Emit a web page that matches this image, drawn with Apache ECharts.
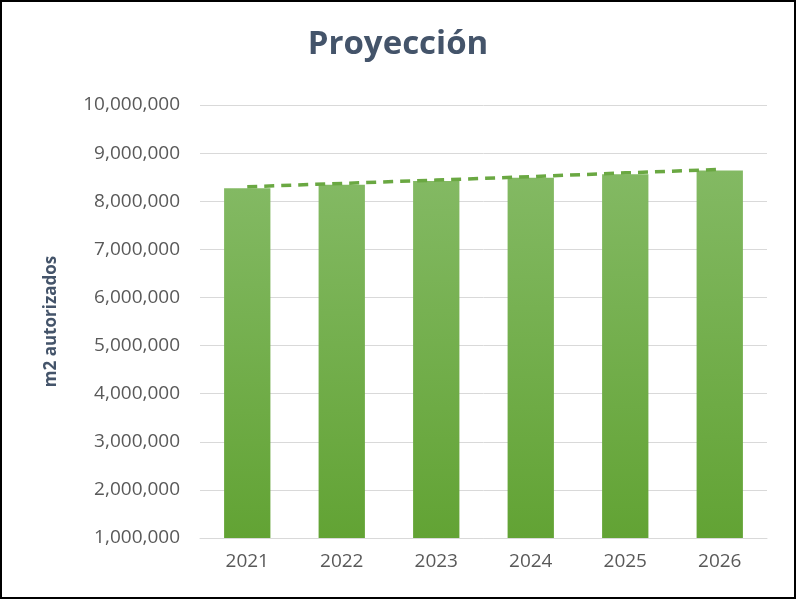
<!DOCTYPE html><html><head><meta charset="utf-8">
<script src="https://cdn.jsdelivr.net/npm/echarts@6/dist/echarts.min.js"></script>
<style>html,body{margin:0;padding:0;background:#fff}#c{width:792px;height:595px;border:2px solid #000}</style></head><body>
<div id="c"></div>
<script>
const years=['2021','2022','2023','2024','2025','2026'];
const values=[8270000,8340000,8420000,8490000,8560000,8640000];
const trend=[8300000,8370000,8440000,8510000,8590000,8660000];
const chart=echarts.init(document.getElementById('c'));
chart.setOption({
 title:{text:'Proyección',left:'center',top:21,textStyle:{fontFamily:'Open Sans',fontSize:33,fontWeight:'bold',color:'#44546a'}},
 grid:{left:198,right:27,top:103,bottom:59},
 xAxis:{type:'category',data:years,axisTick:{show:false},axisLine:{lineStyle:{color:'#d9d9d9'}},
  axisLabel:{fontFamily:'Open Sans',fontSize:19,color:'#595959',margin:14}},
 yAxis:{type:'value',min:1000000,max:10000000,interval:1000000,
  name:'m2 autorizados',nameLocation:'middle',nameGap:140,nameTextStyle:{fontFamily:'Open Sans',fontSize:17,fontWeight:'bold',color:'#44546a'},
  axisLabel:{fontFamily:'Open Sans',fontSize:19,color:'#595959',margin:20,formatter:v=>v.toLocaleString('en-US')},
  splitLine:{lineStyle:{color:'#d9d9d9'}}},
 series:[
  {type:'bar',data:values,barWidth:'49%',itemStyle:{color:new echarts.graphic.LinearGradient(0,0,0,1,[{offset:0,color:'#83b963'},{offset:1,color:'#62a334'}])}},
  {type:'line',data:trend,symbol:'none',lineStyle:{type:[10,7],width:3.5,color:'#6aa842'},z:5}
 ]
});
</script></body></html>
